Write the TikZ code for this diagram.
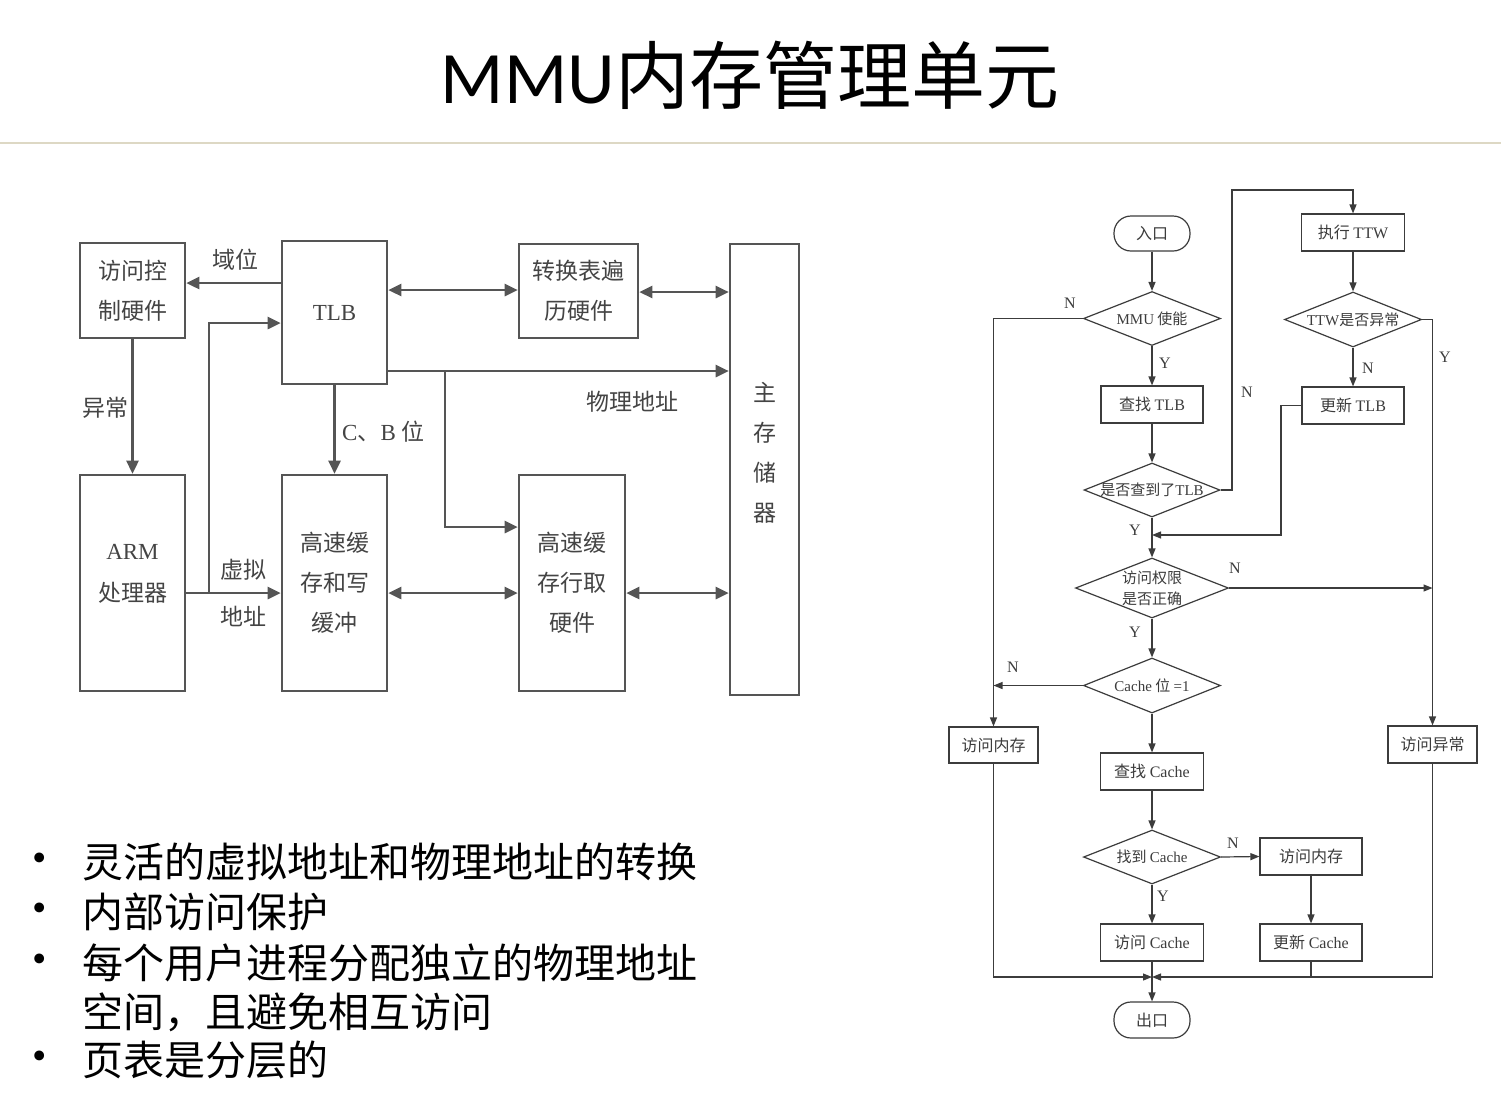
\documentclass[tikz,border=0pt]{standalone}
\usepackage{fontspec}
\setmainfont{Liberation Serif}
\newfontfamily\cjk{Noto Sans CJK SC}
\newfontfamily\slidelat{Carlito}
\usetikzlibrary{arrows.meta,shapes.geometric,positioning}
\definecolor{SlideRule}{HTML}{DDD8C4}
\definecolor{BlockGray}{HTML}{555555}
\definecolor{BlockText}{HTML}{444444}
\definecolor{FlowGray}{HTML}{3C3C3C}
\newcommand{\latn}[1]{{\rmfamily #1}}

\begin{document}
\begin{tikzpicture}[x=1pt, y=-1pt,
  blk/.style={draw=BlockGray, line width=2.6pt, text=BlockText, align=center, inner sep=0pt, font=\fontsize{23}{40}\selectfont\cjk},
  blktxt/.style={text=BlockText, align=center, inner sep=0pt, font=\fontsize{23}{42}\selectfont\cjk},
  blklbl/.style={text=BlockText, align=center, inner sep=0pt, font=\fontsize{23}{47}\selectfont\cjk},
  arr/.style={BlockGray, line width=2.6pt, arrows={-Triangle[length=13pt,width=12pt]}},
  dblarr/.style={BlockGray, line width=2.6pt, arrows={Triangle[length=13pt,width=12pt]-Triangle[length=13pt,width=12pt]}},
  fbox/.style={draw=FlowGray, line width=1.2pt, minimum width=102pt, minimum height=37pt, inner sep=0pt, text=FlowGray, font=\fontsize{16}{20}\selectfont\cjk},
  fdec/.style={diamond, draw=FlowGray, line width=1.2pt, minimum width=137pt, minimum height=54pt, inner sep=0pt},
  dectxt/.style={text=FlowGray, align=center, inner sep=0pt, font=\fontsize{15}{21}\selectfont\cjk},
  fterm/.style={draw=FlowGray, line width=1.2pt, rounded corners=17pt, minimum width=76pt, minimum height=35pt, inner sep=0pt, text=FlowGray, font=\fontsize{16}{20}\selectfont\cjk},
  flbl/.style={text=FlowGray, inner sep=0pt, font=\fontsize{16}{20}\selectfont},
  farr/.style={FlowGray, line width=1.2pt, arrows={-Triangle[length=9pt,width=7pt]}},
  fline/.style={FlowGray, line width=1.2pt},
  bul/.style={anchor=west, inner sep=0pt, font=\fontsize{41}{48}\selectfont\cjk},
  dot/.style={inner sep=0pt, font=\fontsize{41}{48}\selectfont},
]
\fill[white] (0,0) rectangle (1501,1109);
\useasboundingbox (0,0) rectangle (1501,1109);

% title and rule
\node (title) at (750,75) {\fontsize{74}{80}\selectfont\slidelat MMU\cjk 内存管理单元};
\draw[SlideRule, line width=2pt] (0,143) -- (1501,143);

% block diagram
\node[blk, minimum width=105pt, minimum height=95pt] (acc) at (132.5,290.5) {访问控\\制硬件};
\node[blk, minimum width=105pt, minimum height=143pt] (tlb) at (334.5,312.5) {\latn{TLB}};
\node[blk, minimum width=119pt, minimum height=94pt] (ttw) at (578.5,291) {转换表遍\\历硬件};
\node[blk, minimum width=69pt, minimum height=451pt] (mem) at (764.5,469.5) {};
\node[blktxt, font=\fontsize{23}{40}\selectfont\cjk] (memtxt) at (765,453) {主\\存\\储\\器};
\node[blk, minimum width=105pt, minimum height=216pt,
  label={[blktxt, yshift=9pt]center:{\latn{ARM}\\处理器}}] (arm) at (132.5,583) {};
\node[blk, minimum width=105pt, minimum height=216pt] (cwb) at (334.5,583) {高速缓\\存和写\\缓冲};
\node[blk, minimum width=106pt, minimum height=216pt] (clf) at (572,583) {高速缓\\存行取\\硬件};

\coordinate (vsplit) at (209,593);
\coordinate (psplit) at (445,371);

\draw[arr] (tlb.west |- 0,283) -- (acc.east |- 0,283);
\draw[arr] (acc) -- (arm);
\draw[arr] (arm.east |- 0,593) -- (cwb.west |- 0,593);
\draw[arr] (vsplit) |- (tlb.west |- 0,323);
\draw[dblarr] (tlb.east |- 0,290) -- (ttw.west |- 0,290);
\draw[dblarr] (ttw.east |- 0,292) -- (mem.west |- 0,292);
\draw[arr] (tlb.east |- 0,371) -- (mem.west |- 0,371);
\draw[arr] (psplit) |- (clf.west |- 0,527);
\draw[arr] (tlb) -- (cwb);
\draw[dblarr] (cwb.east |- 0,593) -- (clf.west |- 0,593);
\draw[dblarr] (clf.east |- 0,593) -- (mem.west |- 0,593);

\node[blklbl] (domlbl) at (235,260) {域位};
\node[blklbl] (exclbl) at (105,408) {异常};
\node[blklbl] (valbl) at (243,593) {虚拟\\地址};
\node[blklbl, anchor=west] (cblbl) at (342,432) {\latn{C}、\latn{B} 位};
\node[blklbl] (palbl) at (632,402) {物理地址};

% flow chart
\node[fterm] (entry) at (1152,233.5) {入口};
\node[fdec, label={[dectxt]center:{\latn{MMU} 使能}}] (mmuen) at (1152,318.5) {};
\node[fbox] (findtlb) at (1152,404.5) {查找 \latn{TLB}};
\node[fdec, minimum width=136pt, label={[dectxt]center:{是否查到了\latn{TLB}}}] (tlbhit) at (1152,490) {};
\node[fdec, minimum width=153pt, minimum height=60pt, label={[dectxt]center:{访问权限\\是否正确}}] (perm) at (1152,588) {};
\node[fdec, minimum height=55pt, label={[dectxt]center:{\latn{Cache} 位 \latn{=1}}}] (cbit) at (1152,685.5) {};
\node[fbox, minimum width=89pt, minimum height=36pt] (memL) at (993.5,745) {访问内存};
\node[fbox, minimum width=103pt] (findc) at (1152,771.5) {查找 \latn{Cache}};
\node[fdec, label={[dectxt]center:{找到 \latn{Cache}}}] (hitc) at (1152,857) {};
\node[fbox] (memR) at (1311,856.5) {访问内存};
\node[fbox, minimum width=103pt] (accc) at (1152,942.5) {访问 \latn{Cache}};
\node[fbox] (updc) at (1311,942.5) {更新 \latn{Cache}};
\node[fterm, minimum height=36pt] (exit) at (1152,1020) {出口};
\node[fbox, minimum width=89pt] (fault) at (1432.5,744.5) {访问异常};
\node[fbox, minimum width=103pt] (dottw) at (1353,232.5) {执行 \latn{TTW}};
\node[fdec, minimum height=55pt, label={[dectxt]center:{\latn{TTW}是否异常}}] (ttwerr) at (1353,319.5) {};
\node[fbox] (updtlb) at (1353,405.5) {更新 \latn{TLB}};

\coordinate (ttwtop) at (1232,190);
\coordinate (tlbjoin) at (1281,405.5);

\draw[farr] (entry) -- (mmuen);
\draw[farr] (mmuen) -- (findtlb);
\draw[farr] (mmuen.west) -| (memL.north);
\draw[farr] (findtlb) -- (tlbhit);
\draw[farr] (tlbhit.east) -| (ttwtop) -| (dottw.north);
\draw[farr] (tlbhit) -- (perm);
\draw[farr] (updtlb.west) -- (tlbjoin) |- (tlbhit.south |- 0,535);
\draw[farr] (dottw) -- (ttwerr);
\draw[farr] (ttwerr) -- (updtlb);
\draw[farr] (ttwerr.east) -| (fault.north);
\draw[farr] (perm.east) -- (fault.north |- perm.east);
\draw[farr] (perm) -- (cbit);
\draw[farr] (cbit.west) -- (memL.north |- cbit.west);
\draw[farr] (cbit) -- (findc);
\draw[farr] (findc) -- (hitc);
\draw[farr] (hitc.east) -- (memR.west);
\draw[farr] (hitc) -- (accc);
\draw[farr] (memR) -- (updc);
\draw[farr] (accc) -- (exit);
\draw[farr] (memL.south) |- (exit.north |- 0,977);
\draw[farr] (fault.south) |- (exit.north |- 0,977);
\draw[fline] (updc.south) -- (updc.south |- 0,977);

\node[flbl] (n1) at (1070,303) {N};
\node[flbl] (y1) at (1165,363) {Y};
\node[flbl] (n2) at (1247,392) {N};
\node[flbl] (y2) at (1135,530) {Y};
\node[flbl] (n3) at (1235,568) {N};
\node[flbl] (y3) at (1135,632) {Y};
\node[flbl] (n4) at (1013,667) {N};
\node[flbl] (n5) at (1233,843) {N};
\node[flbl] (y4) at (1163,896) {Y};
\node[flbl] (n6) at (1368,368) {N};
\node[flbl] (y5) at (1445,357) {Y};

% bullet list
\node[dot] (d1) at (40,862) {\textbullet};
\node[bul] (b1) at (82,862) {灵活的虚拟地址和物理地址的转换};
\node[dot] (d2) at (40,912) {\textbullet};
\node[bul] (b2) at (82,912) {内部访问保护};
\node[dot] (d3) at (40,963) {\textbullet};
\node[bul] (b3) at (82,963) {每个用户进程分配独立的物理地址};
\node[bul] (b4) at (82,1012) {空间，且避免相互访问};
\node[dot] (d5) at (40,1060) {\textbullet};
\node[bul] (b5) at (82,1060) {页表是分层的};
\end{tikzpicture}
\end{document}
